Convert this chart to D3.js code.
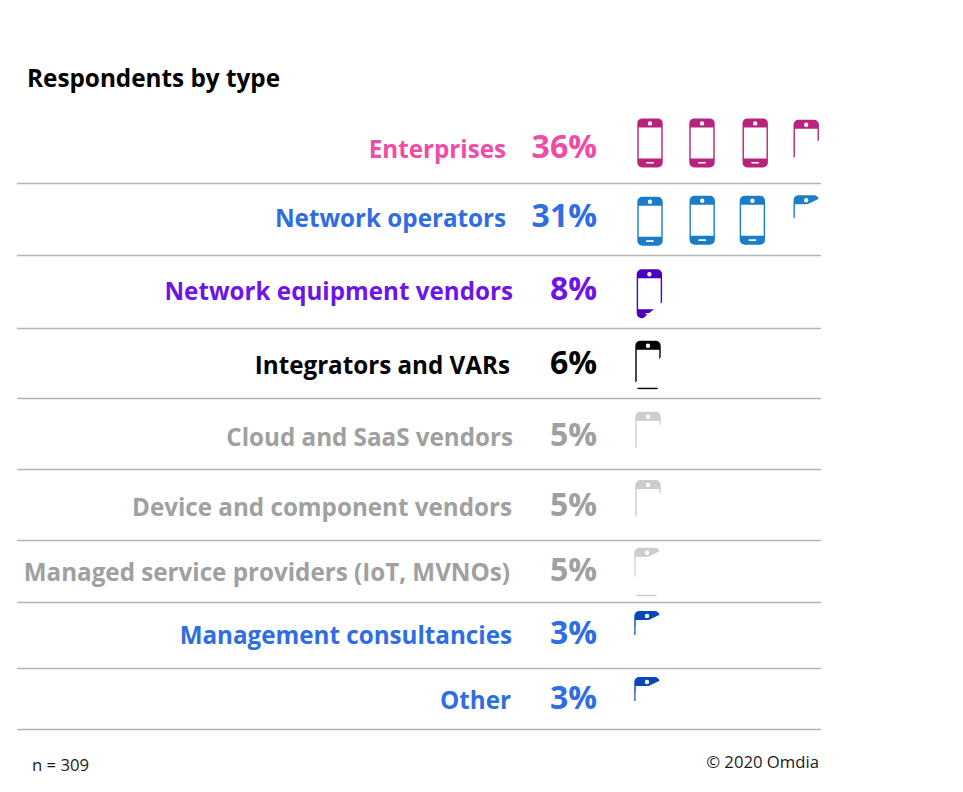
<!DOCTYPE html>
<html><head><meta charset="utf-8">
<script src="https://cdn.jsdelivr.net/npm/d3@7/dist/d3.min.js"></script>
<style>html,body{margin:0;background:#fff}svg{display:block}text{font-family:"Open Sans",sans-serif}</style>
</head><body><svg id="c" width="963" height="792"></svg>
<script>
// ---- data ----
const categories = ["Enterprises","Network operators","Network equipment vendors","Integrators and VARs","Cloud and SaaS vendors","Device and component vendors","Managed service providers (IoT, MVNOs)","Management consultancies","Other"];
const shares = [36,31,8,6,5,5,5,3,3];
const titleText = "Respondents by type";
const sampleText = "n = 309";
const creditText = "\u00A9 2020 Omdia";
const percentPerIcon = 10;

// ---- layout and style (per row, hand-placed in the original) ----
const labelColors = ["#EE4CA6","#2F6EE2","#6F14E6","#000000","#A0A0A0","#A0A0A0","#A0A0A0","#2F6EE2","#2F6EE2"];
const iconColors  = ["#B9227D","#1B7CC8","#4B00C0","#000000","#CDCDCD","#CDCDCD","#CDCDCD","#0A47B8","#0A47B8"];
const labelRight  = [506,506,513,510,513,512,510,512,511];
const labelBase   = [158,227,300,374,446,516,581,644,709];
const valueBase   = [158,227,300,374,446,516,581,644,709];
const ruleY       = [183,255,328,398,469,540,602,668,729];
const iconTops    = [[118.4,118.4,118.4,119.7],[196.7,195.7,195.7,195.3],[269.3],[340.7],[411.7],[480],[547.7],[611],[677]];
const iconXs      = [[637.3,689.3,742.5,793.5],[637.3,689.5,739.7,793.5],[636.7],[635.3],[635.3],[635.3],[634.3],[634.3],[634.3]];
const cutTilt     = [19,13,23,27,26,26,13,13,13];
const cutShift    = [0,4.6,4.5,0,0,0,-15,-5,-5];
const wallDepth   = [0,23,0,0,0,0,29,24,24];
const bottomTrace = [0,0,0,1,0,0,.25,0,0];

const svg = d3.select("#c");
const W = 25.4, H = 49;
const fill = d3.scaleLinear().domain([0, percentPerIcon]).range([0, H]);
const rows = categories.map((c,i)=>({c,v:shares[i],i}));

function phonePath(){
  const p = d3.path(), r = 5;
  p.moveTo(r,0); p.lineTo(W-r,0); p.arcTo(W,0,W,r,r); p.lineTo(W,H-r); p.arcTo(W,H,W-r,H,r);
  p.lineTo(r,H); p.arcTo(0,H,0,H-r,r); p.lineTo(0,r); p.arcTo(0,0,r,0,r); p.closePath();
  p.moveTo(1.4,9); p.lineTo(1.4,40); p.lineTo(W-1.4,40); p.lineTo(W-1.4,9); p.closePath();
  p.moveTo(W/2+2.2,5); p.arc(W/2,5,2.2,0,2*Math.PI); p.closePath();
  const sx=W/2-3.7, sy=43.6;
  p.moveTo(sx,sy); p.lineTo(sx,sy+1.6); p.lineTo(sx+7.4,sy+1.6); p.lineTo(sx+7.4,sy); p.closePath();
  return p.toString();
}
const phone = phonePath();

svg.append("text").attr("x",27).attr("y",87).attr("font-size",24.3).attr("font-weight",700).attr("fill","#000").text(titleText);

svg.selectAll("line.rule").data(ruleY).join("line").attr("class","rule")
  .attr("x1",17).attr("x2",821).attr("y1",d=>d+.5).attr("y2",d=>d+.5)
  .attr("stroke","#B4B4B4").attr("stroke-width",1.5);

svg.selectAll("text.label").data(rows).join("text").attr("class","label")
  .attr("x",d=>labelRight[d.i]).attr("y",d=>labelBase[d.i]).attr("text-anchor","end")
  .attr("font-size",24.2).attr("font-weight",700).attr("fill",d=>labelColors[d.i]).text(d=>d.c);

svg.selectAll("text.value").data(rows).join("text").attr("class","value")
  .attr("x",597).attr("y",d=>valueBase[d.i]).attr("text-anchor","end")
  .attr("font-size",32).attr("font-weight",700).attr("fill",d=>labelColors[d.i]).text(d=>d.v+"%");

const defs = svg.append("defs");
rows.forEach(d=>{
  const n = Math.ceil(d.v/percentPerIcon);
  const rem = d.v - (n-1)*percentPerIcon;
  const g = svg.append("g").attr("class","row");
  d3.range(n).forEach(k=>{
    const x = iconXs[d.i][k], y = iconTops[d.i][k];
    const icon = g.append("g").attr("transform",`translate(${x},${y})`);
    const path = icon.append("path").attr("d",phone).attr("fill-rule","evenodd").attr("fill",iconColors[d.i]);
    if(k===n-1){
      const mid = fill(rem)+cutShift[d.i], t = cutTilt[d.i]/2;
      const poly = d3.path();
      poly.moveTo(-1,-1); poly.lineTo(W+1,-1); poly.lineTo(W+1,mid-t); poly.lineTo(-1,mid+t); poly.closePath();
      if(wallDepth[d.i]) poly.rect(-1,0,2.4,wallDepth[d.i]);
      if(bottomTrace[d.i]) poly.rect(2,H-2,W-5,1.5);
      const id = "cut"+d.i;
      defs.append("clipPath").attr("id",id).append("path").attr("d",poly.toString());
      path.attr("clip-path",`url(#${id})`);
    }
  });
});

svg.append("text").attr("x",32).attr("y",771).attr("font-size",16.7).attr("fill","#1a1a1a").text(sampleText);
svg.append("text").attr("x",819).attr("y",768).attr("text-anchor","end").attr("font-size",16.7).attr("fill","#1a1a1a").text(creditText);
</script></body></html>
